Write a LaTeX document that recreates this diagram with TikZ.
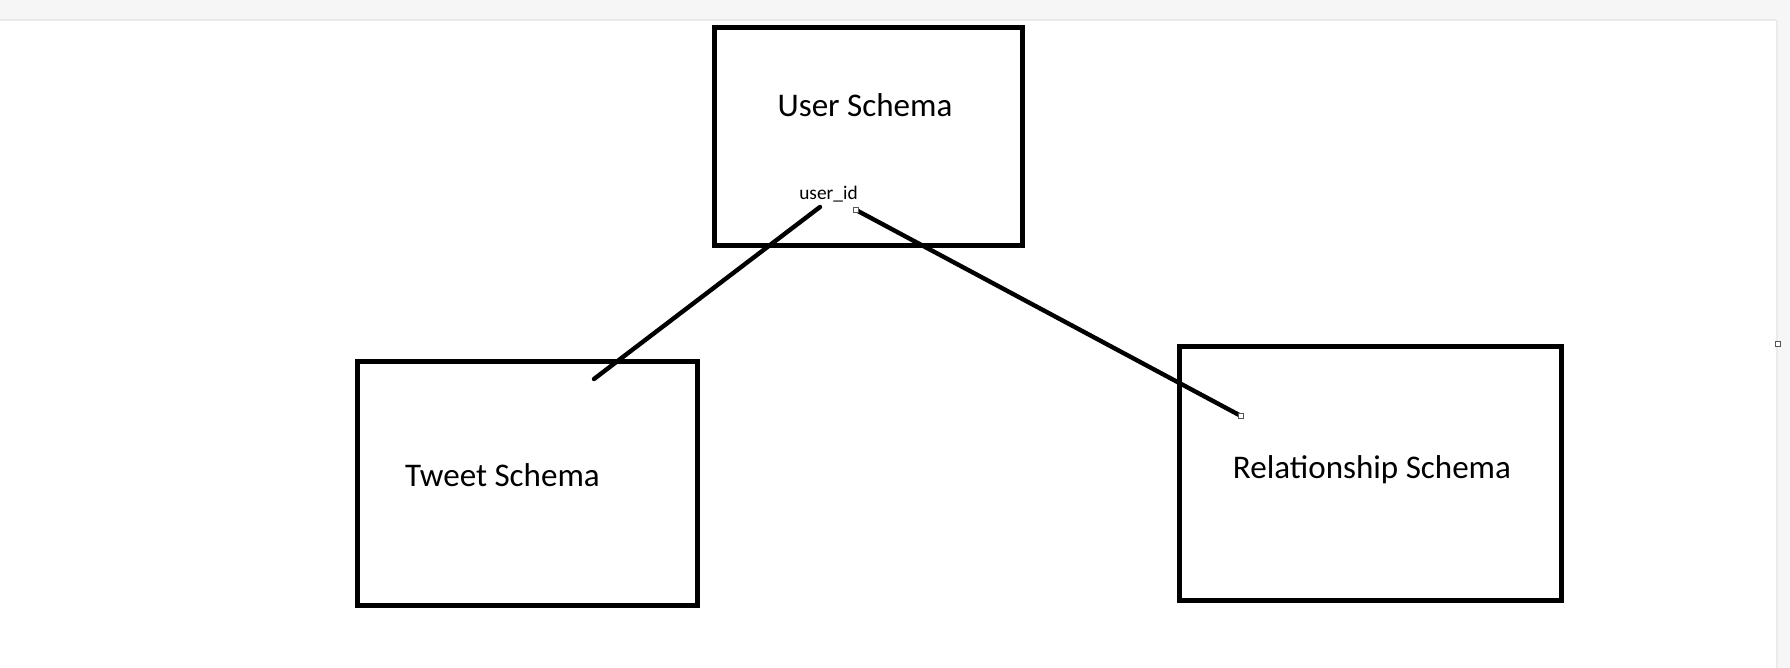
\documentclass[tikz,border=0pt]{standalone}
\usepackage{fontspec}
\setmainfont{Carlito}
\usepackage{xcolor}
\usepackage{tikz}
\usetikzlibrary{positioning, calc}

\definecolor{barGray}{HTML}{F6F6F6}
\definecolor{edgeGray}{HTML}{EAEAEA}
\definecolor{handleGray}{HTML}{555555}

\tikzset{
  schemaBox/.style={draw=black, line width=1.45pt, inner sep=0pt, outer sep=0pt, anchor=north west},
  schemaText/.style={font=\fontsize{9.4}{11}\selectfont, inner sep=0pt, anchor=base},
  keyText/.style={font=\fontsize{5.5}{7}\selectfont, inner sep=0pt, anchor=base},
  linkLine/.style={line width=1.25pt, line cap=round},
  handle/.style={draw=handleGray, line width=0.35pt, fill=white, minimum size=1.3pt, inner sep=0pt}
}

\begin{document}
\begin{tikzpicture}[x=0.01cm, y=-0.01cm]
  % page: 1790 x 668 px, one unit = one px
  \useasboundingbox (0,0) rectangle (1790,668);
  \fill[white] (0,0) rectangle (1790,668);
  % window chrome: top bar and right strip
  \fill[barGray] (0,0) rectangle (1790,20);
  \draw[edgeGray, line width=0.4pt] (0,20) -- (1776,20);
  \fill[barGray] (1776,20) rectangle (1790,668);
  \fill[edgeGray] (1776,20) rectangle (1778,668);

  % schema boxes (north west corner + size)
  \node[schemaBox, minimum width=3.075cm, minimum height=2.175cm] (user) at (714.5,27.5) {};
  \node[schemaBox, minimum width=3.40cm, minimum height=2.44cm] (tweet) at (357.5,361.5) {};
  \node[schemaBox, minimum width=3.82cm, minimum height=2.54cm] (rel) at (1179.5,346.5) {};

  % labels
  \node[schemaText] (userTxt) at (865,117) {User Schema};
  \node[schemaText] (tweetTxt) at (502.5,487) {Tweet Schema};
  \node[schemaText] (relTxt) at (1372,479) {Relationship Schema};
  \node[keyText] (userId) at (828.5,200) {user\_id};

  % link ends
  \coordinate (idLeft) at (820,207);
  \coordinate (idRight) at (856,210);
  \coordinate (tweetEnd) at (594,379);
  \coordinate (relEnd) at (1241,416);

  % links
  \draw[linkLine] (idLeft) -- (tweetEnd);
  \draw[linkLine] (idRight) -- (relEnd);

  % selection handles
  \foreach \p in {idRight, relEnd} {
    \node[handle] at (\p) {};
  }
  \node[handle, minimum size=1.4pt] (sideHandle) at (1778,344) {};
\end{tikzpicture}
\end{document}
